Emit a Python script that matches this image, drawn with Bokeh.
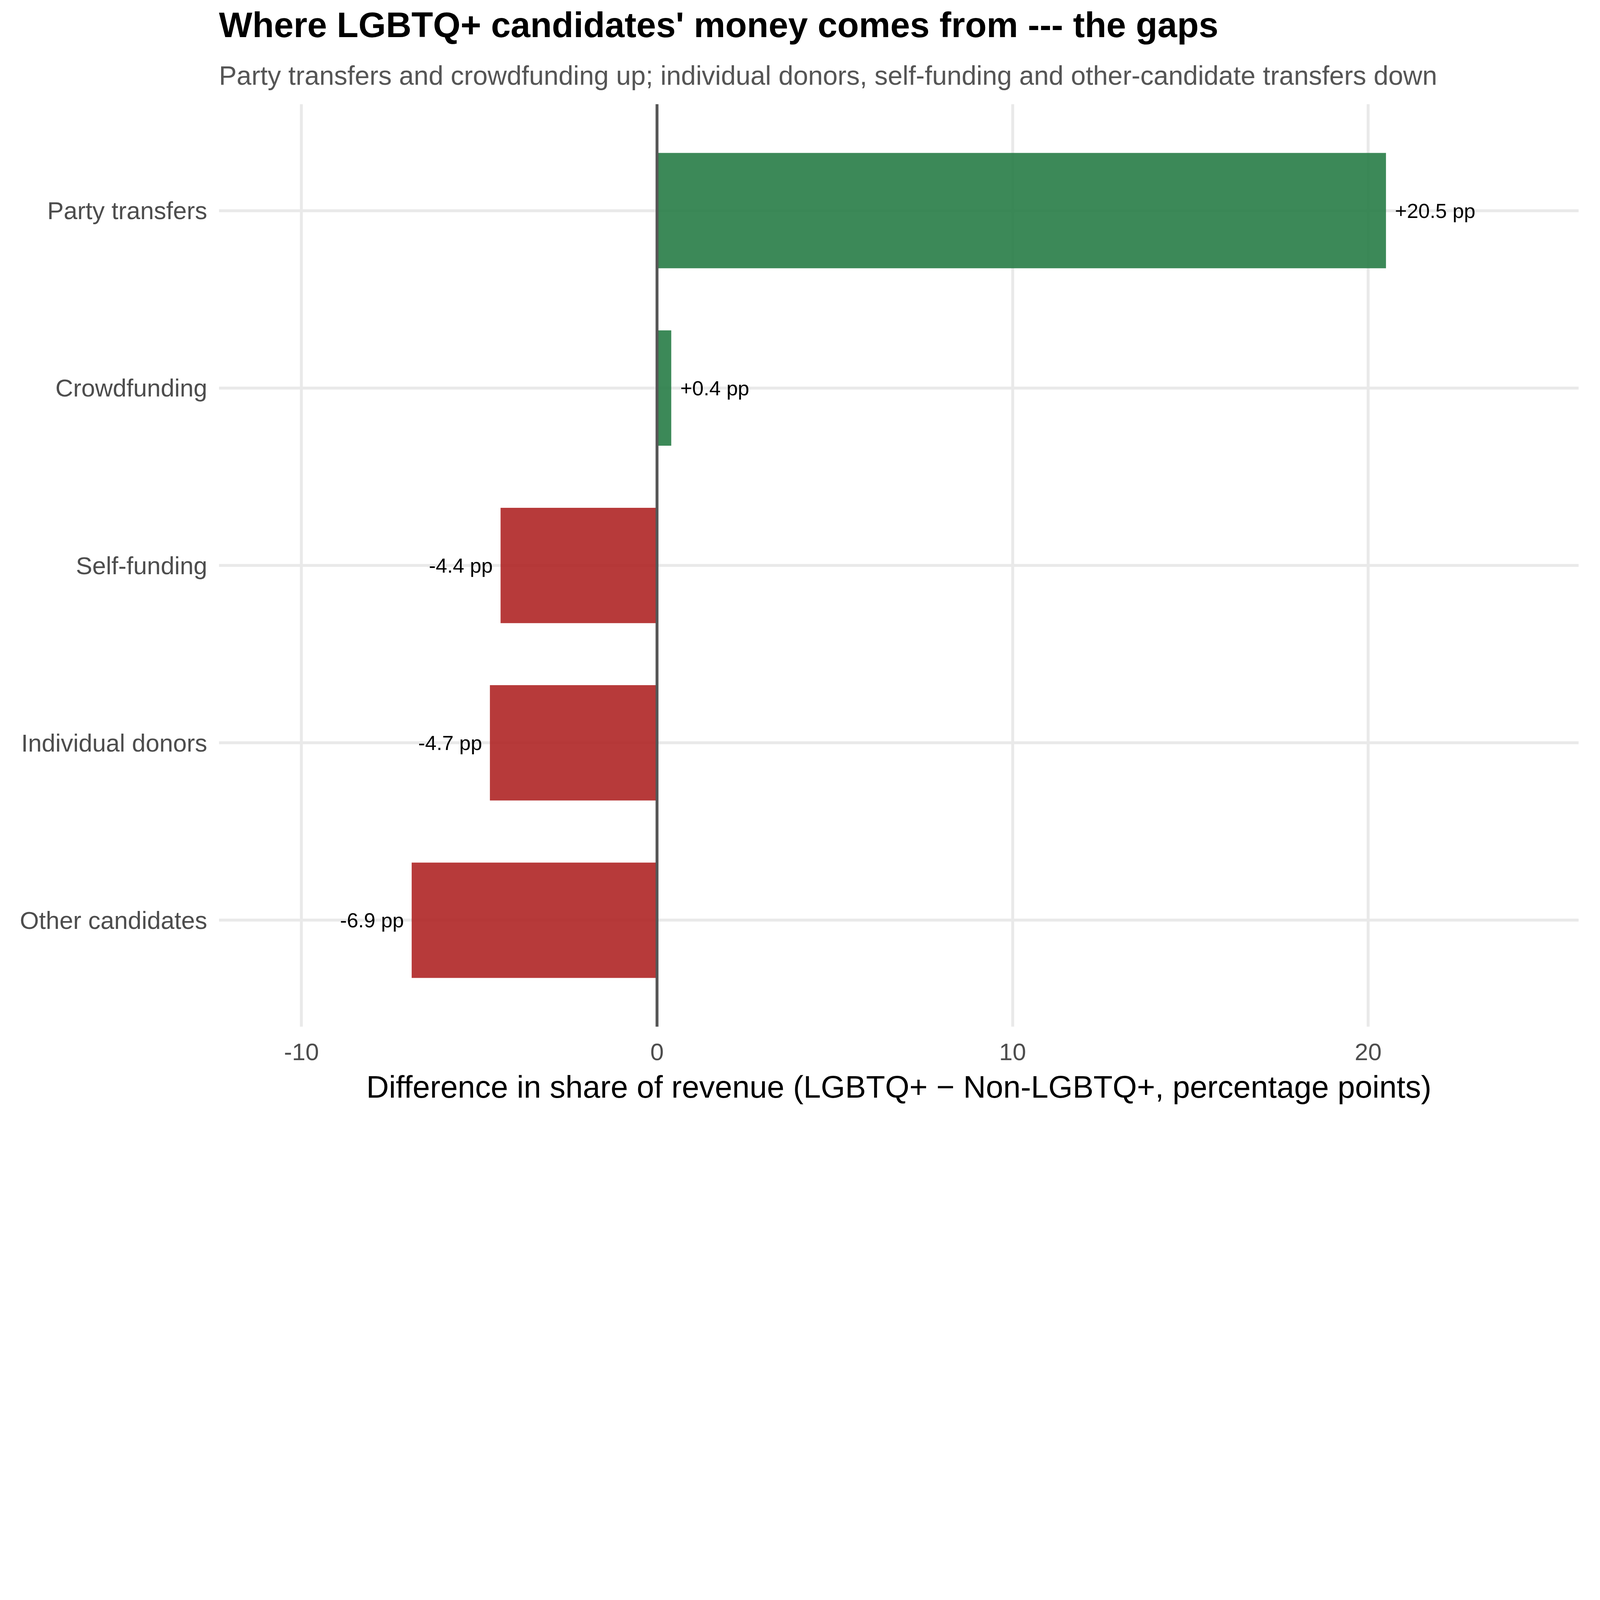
from bokeh.plotting import figure
from bokeh.models import FactorRange, Range1d, FixedTicker, Title, Span, ColumnDataSource
from bokeh.embed import file_html
from bokeh.resources import INLINE
from bokeh.core.properties import value

# ---- data ----
categories = ["Other candidates", "Individual donors", "Self-funding", "Crowdfunding", "Party transfers"]
differences = [-6.9, -4.7, -4.4, 0.4, 20.5]
x_ticks = [-10, 0, 10, 20]
x_tick_labels = ["-10", "0", "10", "20"]

title_text = "Where LGBTQ+ candidates' money comes from --- the gaps"
subtitle_text = ("Party transfers and crowdfunding up; individual donors, self-funding "
                 "and other-candidate transfers down")
x_label = "Difference in share of revenue (LGBTQ+ \u2212 Non-LGBTQ+, percentage points)"

POS = "#277C46"
NEG = "#AF2525"
FONT = "Liberation Sans"

colors = [POS if v > 0 else NEG for v in differences]
labels = [f"{v:+.1f} pp" for v in differences]
pos_idx = [i for i, v in enumerate(differences) if v >= 0]
neg_idx = [i for i, v in enumerate(differences) if v < 0]

src = ColumnDataSource(dict(cat=categories, val=differences, color=colors, label=labels))
src_pos = ColumnDataSource(dict(cat=[categories[i] for i in pos_idx],
                                val=[differences[i] for i in pos_idx],
                                label=[labels[i] for i in pos_idx]))
src_neg = ColumnDataSource(dict(cat=[categories[i] for i in neg_idx],
                                val=[differences[i] for i in neg_idx],
                                label=[labels[i] for i in neg_idx]))

p = figure(width=4080, height=2856, output_backend="svg", toolbar_location=None,
           y_range=FactorRange(factors=categories, range_padding=0.1, range_padding_units="absolute"),
           x_range=Range1d(-12.32, 25.92),
           min_border_left=560, min_border_right=39, min_border_top=266, min_border_bottom=228)

p.background_fill_color = "white"
p.border_fill_color = "white"
p.outline_line_color = None

# grid
p.xgrid.ticker = FixedTicker(ticks=x_ticks)
p.xgrid.grid_line_color = "#E9E9E9"
p.xgrid.grid_line_width = 7.5
p.ygrid.grid_line_color = "#E9E9E9"
p.ygrid.grid_line_width = 7.5

# bars
p.hbar(y="cat", left=0, right="val", height=0.65, source=src,
       fill_color="color", fill_alpha=0.9, line_color=None)

# zero line
p.add_layout(Span(location=0, dimension="height", line_color="#555555", line_width=7.3))

# value labels
p.text(x="val", y="cat", text="label", source=src_pos, x_offset=23,
       text_align="left", text_baseline="middle", text_font=value(FONT),
       text_font_size="52.5px", text_color="black")
p.text(x="val", y="cat", text="label", source=src_neg, x_offset=-20,
       text_align="right", text_baseline="middle", text_font=value(FONT),
       text_font_size="52.5px", text_color="black")

# axes
xa = p.xaxis[0]
xa.ticker = FixedTicker(ticks=x_ticks)
xa.major_label_overrides = {t: l for t, l in zip(x_ticks, x_tick_labels)}
xa.axis_line_color = None
xa.major_tick_line_color = None
xa.minor_tick_line_color = None
xa.major_tick_out = 0
xa.major_tick_in = 0
xa.major_label_standoff = 43
xa.major_label_text_font = FONT
xa.major_label_text_font_size = "62px"
xa.major_label_text_color = "#4D4D4D"
xa.axis_label = x_label
xa.axis_label_text_font = FONT
xa.axis_label_text_font_size = "80px"
xa.axis_label_text_font_style = "normal"
xa.axis_label_text_color = "black"
xa.axis_label_standoff = 21

ya = p.yaxis[0]
ya.axis_line_color = None
ya.major_tick_line_color = None
ya.minor_tick_line_color = None
ya.major_tick_out = 0
ya.major_tick_in = 0
ya.major_label_standoff = 30
ya.major_label_text_font = FONT
ya.major_label_text_font_size = "63px"
ya.major_label_text_color = "#4D4D4D"

# titles (first added is closest to the frame)
p.add_layout(Title(text=subtitle_text, text_font=FONT, text_font_size="68px",
                   text_font_style="normal", text_color="#555555", align="left",
                   standoff=72), "above")
p.add_layout(Title(text=title_text, text_font=FONT, text_font_size="90.5px",
                   text_font_style="bold", text_color="black", align="left",
                   standoff=6), "above")

open("out.html", "w").write(file_html(p, INLINE))
